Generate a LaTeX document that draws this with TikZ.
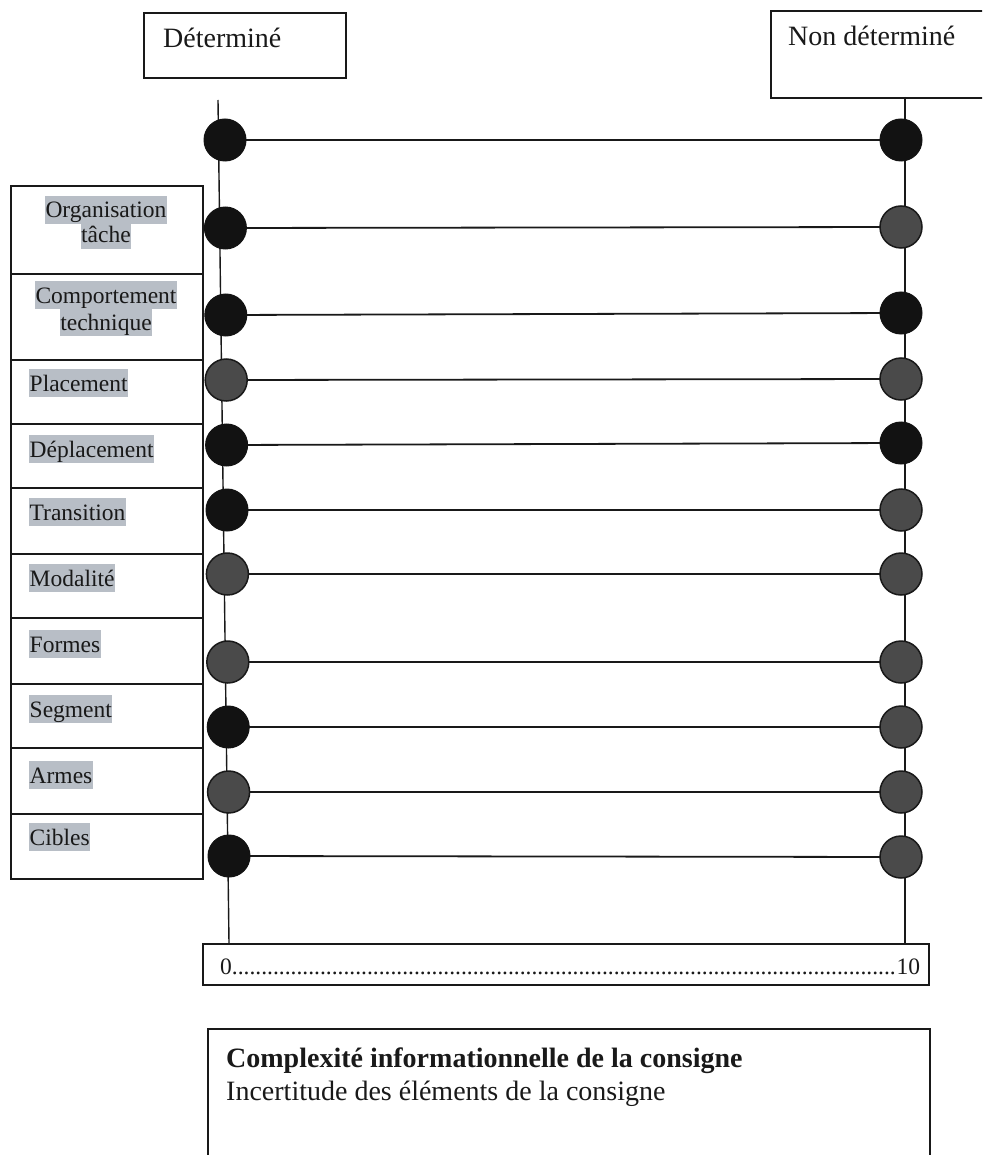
\documentclass[tikz,border=0pt]{standalone}
\usepackage{fontspec}
\setmainfont{Liberation Serif}
\usetikzlibrary{backgrounds}
\definecolor{hlgray}{RGB}{184,190,198}
\definecolor{dotblk}{RGB}{18,18,18}
\definecolor{dotgry}{RGB}{74,74,74}
\definecolor{ink}{RGB}{25,25,25}
\begin{document}
\begin{tikzpicture}[x=1pt,y=-1pt,
  frame/.style={draw=ink, line width=1.8pt},
  lbox/.style={frame, minimum width=192pt, anchor=north west, inner sep=0pt},
  blk/.style={circle, fill=dotblk, draw=dotblk, line width=1pt, minimum size=42pt, inner sep=0pt},
  gry/.style={circle, fill=dotgry, draw=ink, line width=1.5pt, minimum size=42pt, inner sep=0pt},
  hline/.style={draw=ink, line width=1.8pt},
  vline/.style={draw=ink, line width=1.4pt},
  big/.style={font=\fontsize{28}{32}\selectfont, inner sep=0pt, anchor=base west, text=ink},
  labtxt/.style={font=\fontsize{23.5}{26}\selectfont, fill=hlgray, inner xsep=0.5pt, inner ysep=0pt, text height=22pt, text depth=6pt, text=ink},
]
\useasboundingbox (0,0) rectangle (982,1155);
\clip (0,0) rectangle (982,1155);

% top boxes
\node[frame, anchor=north west, minimum width=202pt, minimum height=65pt, inner sep=0pt] (D) at (143,12) {};
\node[big] (Dt) at (163,48) {Déterminé};
\node[frame, anchor=north west, minimum width=230pt, minimum height=87pt, inner sep=0pt] (ND) at (770,10) {};
\node[big] (NDt) at (788,46) {Non déterminé};

% label boxes
\node[lbox, minimum height=88pt] (B2) at (10,185) {};
\node[lbox, minimum height=86pt] (B3) at (10,273) {};
\node[lbox, minimum height=64pt] (B4) at (10,359) {};
\node[lbox, minimum height=64pt] (B5) at (10,423) {};
\node[lbox, minimum height=66pt] (B6) at (10,487) {};
\node[lbox, minimum height=64pt] (B7) at (10,553) {};
\node[lbox, minimum height=66pt] (B8) at (10,617) {};
\node[lbox, minimum height=64pt] (B9) at (10,683) {};
\node[lbox, minimum height=66pt] (B10) at (10,747) {};
\node[lbox, minimum height=65pt] (B11) at (10,813) {};

% labels
\node[labtxt, anchor=base] (T2a) at (106,218) {Organisation};
\node[labtxt, anchor=base] (T2b) at (106,243) {tâche};
\node[labtxt, anchor=base] (T3a) at (106,303) {Comportement};
\node[labtxt, anchor=base] (T3b) at (106,330) {technique};
\node[labtxt, anchor=base west] (T4) at (29,391) {Placement};
\node[labtxt, anchor=base west] (T5) at (29,457) {Déplacement};
\node[labtxt, anchor=base west] (T6) at (29,520) {Transition};
\node[labtxt, anchor=base west] (T7) at (29,586) {Modalité};
\node[labtxt, anchor=base west] (T8) at (29,652) {Formes};
\node[labtxt, anchor=base west] (T9) at (29,717) {Segment};
\node[labtxt, anchor=base west] (T10) at (29,783) {Armes};
\node[labtxt, anchor=base west] (T11) at (29,845) {Cibles};

% scale box
\node[frame, anchor=north west, minimum width=726pt, minimum height=41pt, inner sep=0pt] (S) at (202,943) {};
\node[font=\fontsize{23.5}{26}\selectfont, anchor=base west, inner sep=0pt, text width=700pt, text=ink] (St) at (220,974) {0\leaders\hbox{.}\hfill10};

% bottom box (open at the bottom)
\coordinate (C1) at (208,1160);
\coordinate (C2) at (208,1029);
\coordinate (C3) at (930,1029);
\coordinate (C4) at (930,1160);
\draw[frame] (C1) -- (C2) -- (C3) -- (C4);
\node[big, font=\fontsize{28}{32}\selectfont\bfseries] (Ct) at (226,1067) {Complexité informationnelle de la consigne};
\node[big] (It) at (226,1100) {Incertitude des éléments de la consigne};

% dots
\foreach \i/\yl/\yr/\tl/\tr/\xl in {
  1/140/140/blk/blk/225,
  2/228/227/blk/gry/225.4,
  3/315/313/blk/blk/225.8,
  4/380/379/gry/gry/226.2,
  5/445/443/blk/blk/226.6,
  6/510/510/blk/gry/227,
  7/574/574/gry/gry/227.4,
  8/662/662/gry/gry/227.8,
  9/727/727/blk/gry/228.2,
  10/792/792/gry/gry/228.6,
  11/856/857/blk/gry/229}{
  \node[\tl] (L\i) at (\xl,\yl) {};
  \node[\tr] (R\i) at (901,\yr) {};
}

\coordinate (LT) at (218,100);
\coordinate (LB) at (229,943);
\coordinate (RT) at (905,97);
\coordinate (RB) at (905,943);

\begin{pgfonlayer}{background}
  \draw[vline] (LT) -- (LB);
  \draw[vline] (RT) -- (RB);
  \foreach \i in {1,...,11}{
    \draw[hline] (L\i.center) -- (R\i.center);
  }
\end{pgfonlayer}
\end{tikzpicture}
\end{document}
